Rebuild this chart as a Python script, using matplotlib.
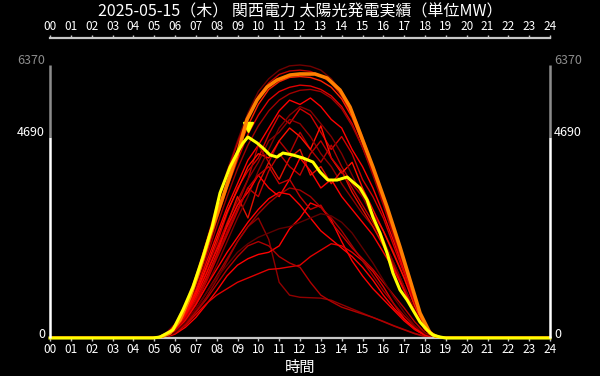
import matplotlib
matplotlib.use("agg")
import matplotlib.pyplot as plt
from matplotlib.transforms import offset_copy

plt.rcParams['font.family'] = ['Noto Sans CJK JP', 'DejaVu Sans']

TITLE = '2025-05-15（木） 関西電力 太陽光発電実績（単位MW）'
X_LABEL = '時間'
HOUR_TICKS = list(range(0, 25))
HOUR_LABELS = ['%02d' % h for h in HOUR_TICKS]
Y_TICKS = [0, 4690, 6370]
Y_TICK_COLORS = ['white', 'white', '#8c8c8c']

# past days of the month, one value every 30 min from 05:00 to 19:00
past_hours = [5.0, 5.5, 6.0, 6.5, 7.0, 7.5, 8.0, 8.5, 9.0, 9.5, 10.0, 10.5,
              11.0, 11.5, 12.0, 12.5, 13.0, 13.5, 14.0, 14.5, 15.0, 15.5,
              16.0, 16.5, 17.0, 17.5, 18.0, 18.5, 19.0]
past_days = [
    [0, 80, 330, 800, 1450, 2250, 3100, 3900, 4600, 5250, 5750, 6050, 6250, 6350, 6370, 6340, 6250, 6050, 5750, 5300, 4700, 4000, 3250, 2450, 1650, 900, 300, 40, 0],
    [0, 60, 300, 760, 1400, 2200, 3050, 3850, 4550, 5150, 5650, 5950, 6150, 6230, 6250, 6220, 6120, 5950, 5650, 5200, 4600, 3900, 3150, 2400, 1600, 850, 280, 30, 0],
    [0, 40, 240, 680, 1300, 2050, 2850, 3650, 4350, 4950, 5450, 5800, 5980, 6080, 6100, 6080, 6000, 5850, 5580, 5150, 4550, 3900, 3200, 2450, 1650, 900, 280, 30, 0],
    [0, 30, 220, 640, 1250, 1950, 2750, 3500, 4150, 4750, 5200, 5550, 5750, 5850, 5900, 5880, 5800, 5650, 5400, 5000, 4450, 3850, 3150, 2400, 1650, 880, 270, 30, 0],
    [0, 30, 200, 600, 1150, 1850, 2600, 3300, 3950, 4500, 4950, 5300, 5550, 5700, 5780, 5800, 5750, 5600, 5350, 4950, 4450, 3800, 3100, 2350, 1600, 850, 250, 30, 0],
    [0, 30, 200, 580, 1100, 1750, 2400, 3050, 3600, 4150, 4500, 4900, 5300, 5550, 5450, 5600, 5400, 5100, 4900, 4400, 4000, 3500, 2900, 2250, 1550, 850, 250, 30, 0],
    [0, 20, 180, 520, 1000, 1600, 2200, 2900, 3500, 3900, 4200, 4750, 5200, 5000, 5350, 5200, 4800, 4400, 4700, 4300, 3700, 3300, 2800, 2150, 1500, 800, 240, 30, 0],
    [0, 20, 170, 500, 950, 1500, 2100, 2700, 3200, 3700, 4500, 4100, 4600, 4300, 4800, 4400, 4100, 4500, 4000, 3600, 3300, 2900, 2500, 2000, 1400, 780, 230, 30, 0],
    [0, 25, 190, 560, 1050, 1650, 2300, 2950, 3450, 4000, 4300, 4200, 4600, 4900, 4700, 4400, 4950, 4200, 3850, 4100, 3500, 3000, 2500, 1950, 1400, 750, 230, 30, 0],
    [0, 20, 160, 460, 880, 1400, 1950, 2500, 3100, 3700, 4100, 4600, 4800, 5100, 5000, 4700, 4300, 4000, 3600, 3250, 2900, 2600, 2200, 1700, 1150, 620, 200, 25, 0],
    [0, 20, 170, 480, 900, 1400, 1950, 2650, 3300, 2800, 3600, 4100, 3700, 4200, 4400, 3800, 4000, 3600, 3900, 3400, 3000, 2600, 2150, 1650, 1150, 620, 200, 25, 0],
    [0, 20, 150, 420, 800, 1300, 1850, 2400, 2950, 3500, 3300, 3900, 4300, 4000, 3800, 4300, 4600, 4200, 3900, 3500, 3100, 2700, 2250, 1750, 1200, 650, 210, 25, 0],
    [0, 15, 140, 400, 760, 1200, 1700, 2250, 2800, 3300, 3900, 4400, 4900, 5200, 5400, 5300, 5000, 4700, 4300, 3800, 3300, 2800, 2300, 1750, 1200, 650, 200, 25, 0],
    [0, 25, 180, 520, 980, 1500, 2050, 2600, 3100, 3400, 3800, 3500, 3300, 3700, 4200, 3900, 3500, 3700, 3300, 3000, 2700, 2400, 2000, 1600, 1100, 600, 190, 25, 0],
    [0, 15, 120, 330, 620, 950, 1350, 1800, 2250, 2600, 2800, 2300, 1300, 1000, 950, 940, 930, 880, 780, 680, 580, 480, 390, 290, 200, 110, 40, 10, 0],
    [0, 10, 90, 250, 480, 780, 1100, 1450, 1700, 1850, 1950, 2000, 2150, 2550, 2800, 3150, 3050, 2750, 2250, 1800, 1450, 1150, 900, 650, 400, 200, 60, 10, 0],
    [0, 15, 110, 300, 550, 800, 1000, 1150, 1300, 1400, 1500, 1600, 1620, 1660, 1700, 1900, 2050, 2200, 2150, 2000, 1800, 1550, 1200, 800, 450, 200, 60, 10, 0],
    [0, 15, 120, 320, 600, 900, 1250, 1600, 1900, 2150, 2250, 2150, 1900, 1750, 1650, 1300, 1000, 850, 720, 640, 560, 480, 380, 280, 190, 100, 35, 10, 0],
    [0, 15, 130, 360, 680, 1050, 1450, 1850, 2250, 2600, 2900, 3150, 3350, 3500, 3450, 3300, 3050, 2800, 2500, 2150, 1800, 1450, 1100, 800, 520, 280, 90, 15, 0],
    [0, 20, 150, 420, 780, 1200, 1600, 2000, 2350, 2700, 3000, 3250, 3400, 3350, 3100, 2800, 2500, 2300, 2100, 1900, 1650, 1350, 1000, 700, 450, 230, 70, 10, 0],
    [0, 20, 160, 460, 860, 1350, 1900, 2450, 3000, 3500, 3800, 4000, 3600, 3700, 3300, 3000, 3100, 2700, 2400, 2100, 1850, 1600, 1300, 1000, 700, 380, 120, 15, 0],
    [0, 15, 130, 360, 680, 1050, 1400, 1700, 2000, 2200, 2350, 2450, 2550, 2600, 2700, 2800, 2900, 2850, 2700, 2450, 2100, 1750, 1350, 950, 600, 300, 100, 15, 0],
]
past_colors = ['#700000', '#c00000', '#ff2000', '#e00000', '#a00000',
               '#ff0000', '#d00000', '#b00000', '#ff1000', '#900000',
               '#e01000', '#c00000', '#800000', '#ff0000', '#900000',
               '#ff0000', '#e00000', '#b00000', '#a00000', '#ff0000',
               '#c00000', '#600000']

# reference day (orange)
best_hours = [0, 5.2, 5.76, 6.24, 6.72, 7.2, 7.68, 8.3, 8.98, 9.46, 9.94,
              10.42, 10.9, 11.52, 12.0, 12.72, 13.3, 13.92, 14.4, 14.88,
              15.5, 16.18, 16.8, 17.28, 17.76, 18.24, 18.58, 18.8, 24]
best_mw = [0, 0, 117, 420, 957, 1633, 2403, 3290, 4270, 5100, 5553,
           5856, 6020, 6136, 6160, 6160, 6066, 5786, 5390, 4783,
           3990, 3056, 2123, 1353, 583, 117, 23, 0, 0]

# today (yellow)
today_hours = [0, 4.94, 5.28, 5.9, 6.38, 6.86, 7.34, 7.78, 8.16, 8.64, 8.98,
               9.26, 9.5, 9.94, 10.22, 10.56, 10.9, 11.18, 11.66, 12.14,
               12.62, 12.96, 13.34, 13.78, 14.26, 14.54, 14.88, 15.22, 15.5,
               15.84, 16.18, 16.46, 16.8, 17.14, 17.42, 17.76, 18.1, 18.38,
               18.72, 19.0, 24]
today_mw = [0, 0, 23, 187, 653, 1190, 1890, 2590, 3383, 3990, 4316,
            4550, 4690, 4550, 4433, 4270, 4223, 4316, 4270, 4200,
            4106, 3873, 3686, 3686, 3756, 3640, 3500, 3220, 2823,
            2450, 1983, 1517, 1120, 887, 653, 373, 187, 70,
            23, 0, 0]


def pad(hours, values):
    return [0] + hours + [24], [0] + values + [0]


fig = plt.figure(figsize=(6, 3.76), dpi=100, facecolor='black')
ax = fig.add_axes([50 / 600, 38 / 376, 500 / 600, 300 / 376])
ax.set_facecolor('black')

for values, color in zip(past_days, past_colors):
    xs, ys = pad(past_hours, values)
    ax.plot(xs, ys, color=color, lw=1.0, zorder=2)

ax.plot(best_hours, best_mw, color='#ff8000', lw=2.6, zorder=3)
ax.plot(today_hours, today_mw, color='#ffff00', lw=2.2, zorder=4,
        clip_on=False)

# marker above today's peak
peak = today_mw.index(max(today_mw))
ax.plot(today_hours[peak], today_mw[peak], marker='v', ms=6.5, color='#ffff00',
        lw=0, transform=offset_copy(ax.transData, fig=fig, y=10, units='dots'))

ax.set_xlim(0, 24)
ax.set_ylim(0, 7000)

for side in ['left', 'right']:
    ax.spines[side].set_visible(False)
for side in ['top', 'bottom']:
    ax.spines[side].set_color('#c8c8c8')
    ax.spines[side].set_linewidth(1.6)

# side axes: white up to today's max, grey up to the overall max
for x in [0, 24]:
    ax.plot([x, x], [0, Y_TICKS[1]], color='white', lw=1.8, clip_on=False,
            zorder=5, solid_capstyle='butt')
    ax.plot([x, x], [Y_TICKS[1], Y_TICKS[2]], color='#8c8c8c', lw=1.8,
            clip_on=False, zorder=5, solid_capstyle='butt')

ax.set_xticks(HOUR_TICKS)
ax.set_xticklabels(HOUR_LABELS)
ax.tick_params(axis='x', which='both', top=True, labeltop=True,
               bottom=True, labelbottom=True, direction='out', length=2,
               width=1, color='#c8c8c8', labelcolor='white', labelsize=8.5,
               pad=1.5)

ax.set_yticks(Y_TICKS)
ax.tick_params(axis='y', left=True, right=True, labelleft=False,
               labelright=False, direction='out', length=2, width=1)
for tick, color in zip(ax.yaxis.get_major_ticks(), Y_TICK_COLORS):
    tick.tick1line.set_color(color)
    tick.tick2line.set_color(color)

for v, color in zip(Y_TICKS, Y_TICK_COLORS):
    ax.annotate(str(v), xy=(0, v), xycoords=('axes fraction', 'data'),
                xytext=(-5, 4), textcoords='offset pixels', ha='right',
                va='center', color=color, fontsize=9)
    ax.annotate(str(v), xy=(1, v), xycoords=('axes fraction', 'data'),
                xytext=(4, 4), textcoords='offset pixels', ha='left',
                va='center', color=color, fontsize=9)

fig.text(0.5, 1 - 12 / 376, TITLE, ha='center', va='center', color='white',
         fontsize=11.5)
fig.text(0.5, 1 - 367 / 376, X_LABEL, ha='center', va='center',
         color='white', fontsize=11)

fig.savefig('out.png', dpi=100, facecolor='black')
